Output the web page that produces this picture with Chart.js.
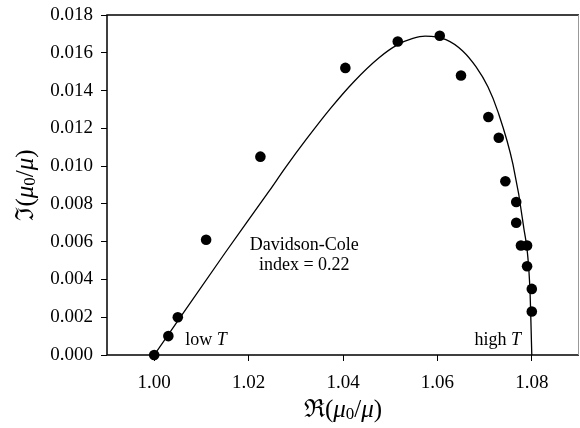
<!DOCTYPE html>
<html>
<head>
<meta charset="utf-8">
<script src="https://cdn.jsdelivr.net/npm/chart.js@4/dist/chart.umd.min.js"></script>
<style>
  html, body { margin: 0; padding: 0; background: #fff; }
  #wrap { width: 580px; height: 428px; }
</style>
</head>
<body>
<div id="wrap"><canvas id="c" width="580" height="428"></canvas></div>
<script>
var reMu = [1.000, 1.003, 1.005, 1.011, 1.0225, 1.0405, 1.0516, 1.0605, 1.065, 1.0708,
            1.073, 1.0744, 1.0767, 1.0767, 1.0777, 1.079, 1.079, 1.080, 1.080];
var imMu = [0.0000, 0.0010, 0.0020, 0.0061, 0.0105, 0.0152, 0.0166, 0.0169, 0.0148, 0.0126,
            0.0115, 0.0092, 0.0081, 0.0070, 0.0058, 0.0058, 0.0047, 0.0035, 0.0023];

// Davidson-Cole fit line
var fitRe = [1.0000, 1.0150, 1.0243, 1.0278, 1.0322, 1.0374, 1.0423, 1.0477, 1.0516, 1.0548,
             1.0574, 1.0618, 1.0653, 1.0682, 1.0707, 1.0728, 1.0760, 1.0782, 1.0796, 1.0800];
var fitIm = [0.0000, 0.0054, 0.00866, 0.00992, 0.01141, 0.01307, 0.01447, 0.01575, 0.01643, 0.01676,
             0.01688, 0.01670, 0.01611, 0.01525, 0.0142, 0.0129, 0.0101, 0.0069, 0.0035, 0.0000];

var xTicks = [1.00, 1.02, 1.04, 1.06, 1.08];
var yTicks = [0.000, 0.002, 0.004, 0.006, 0.008, 0.010, 0.012, 0.014, 0.016, 0.018];

var serif = "'Liberation Serif', 'DejaVu Serif', serif";

function pts(xs, ys) {
    return xs.map(function(x, i) { return { x: x, y: ys[i] }; });
}

// frame, notes and axis titles drawn on top
var extras = {
    id: 'extras',
    afterDatasetsDraw: function(chart) {
        var ctx = chart.ctx;
        var a = chart.chartArea;
        ctx.save();
        ctx.strokeStyle = '#000';
        ctx.lineWidth = 1.5;
        ctx.beginPath();
        ctx.moveTo(a.right, a.top);
        ctx.lineTo(a.left, a.top);
        ctx.lineTo(a.left, a.bottom);
        ctx.lineTo(a.right, a.bottom);
        ctx.stroke();
        ctx.strokeStyle = '#999';
        ctx.lineWidth = 1;
        ctx.beginPath();
        ctx.moveTo(a.right - 0.5, a.top);
        ctx.lineTo(a.right - 0.5, a.bottom);
        ctx.stroke();
        ctx.restore();
    },
    afterDraw: function(chart) {
        var ctx = chart.ctx;
        var a = chart.chartArea;
        var xs = chart.scales.x, ys = chart.scales.y;
        ctx.save();
        ctx.fillStyle = '#000';
        ctx.font = '18px ' + serif;
        ctx.textBaseline = 'middle';
        ctx.textAlign = 'center';
        ctx.fillText('Davidson-Cole', xs.getPixelForValue(1.0318), ys.getPixelForValue(0.0058));
        ctx.fillText('index = 0.22', xs.getPixelForValue(1.0318), ys.getPixelForValue(0.00475));

        // "low T" and "high T" with italic T
        function lowHigh(word, xv, align) {
            var y = ys.getPixelForValue(0.0008);
            ctx.font = '18px ' + serif;
            var w1 = ctx.measureText(word + ' ').width;
            ctx.font = 'italic 18px ' + serif;
            var w2 = ctx.measureText('T').width;
            var x0 = xs.getPixelForValue(xv);
            if (align === 'right') x0 -= (w1 + w2);
            ctx.textAlign = 'left';
            ctx.font = '18px ' + serif;
            ctx.fillText(word + ' ', x0, y);
            ctx.font = 'italic 18px ' + serif;
            ctx.fillText('T', x0 + w1, y);
        }
        lowHigh('low', 1.0066, 'left');
        lowHigh('high', 1.0777, 'right');

        // axis titles: R(mu0/mu) and I(mu0/mu)
        function muLabel(prefix, cx, cy, rot) {
            ctx.save();
            ctx.translate(cx, cy);
            ctx.rotate(rot);
            var parts = [
                { t: prefix + '(', f: '25px ' + serif, dy: 0 },
                { t: 'μ', f: 'italic 25px ' + serif, dy: 0 },
                { t: '0', f: '17px ' + serif, dy: 5 },
                { t: '/', f: '25px ' + serif, dy: 0 },
                { t: 'μ', f: 'italic 25px ' + serif, dy: 0 },
                { t: ')', f: '25px ' + serif, dy: 0 }
            ];
            var total = 0;
            parts.forEach(function(p) { ctx.font = p.f; p.w = ctx.measureText(p.t).width; total += p.w; });
            var x = -total / 2;
            ctx.textAlign = 'left';
            ctx.textBaseline = 'middle';
            parts.forEach(function(p) {
                ctx.font = p.f;
                ctx.fillText(p.t, x, p.dy);
                x += p.w;
            });
            ctx.restore();
        }
        muLabel('ℜ', xs.getPixelForValue(1.04), 410, 0);
        muLabel('ℑ', 26, (a.top + a.bottom) / 2, -Math.PI / 2);
        ctx.restore();
    }
};

new Chart(document.getElementById('c'), {
    type: 'scatter',
    data: {
        datasets: [{
            label: 'Davidson-Cole',
            data: pts(fitRe, fitIm),
            showLine: true,
            borderColor: '#000',
            borderWidth: 1.3,
            pointRadius: 0,
            cubicInterpolationMode: 'monotone',
            fill: false
        }, {
            label: 'data',
            data: pts(reMu, imMu),
            showLine: false,
            clip: false,
            backgroundColor: '#000',
            borderColor: '#000',
            pointRadius: 5.3,
            pointBorderWidth: 0
        }]
    },
    options: {
        responsive: false,
        animation: false,
        layout: { autoPadding: false, padding: { top: 15, right: 1, left: 0, bottom: 0 } },
        plugins: {
            legend: { display: false },
            tooltip: { enabled: false }
        },
        scales: {
            x: {
                type: 'linear',
                min: 0.99,
                max: 1.09,
                afterBuildTicks: function(s) { s.ticks = xTicks.map(function(v) { return { value: v }; }); },
                afterFit: function(s) { s.height = 73; },
                grid: { drawOnChartArea: false, tickLength: 6, tickColor: '#000', drawTicks: true },
                border: { display: false },
                ticks: {
                    color: '#000',
                    padding: 11,
                    maxRotation: 0,
                    font: { family: serif, size: 19 },
                    callback: function(v) { return v.toFixed(2); }
                }
            },
            y: {
                type: 'linear',
                min: 0,
                max: 0.018,
                afterBuildTicks: function(s) { s.ticks = yTicks.map(function(v) { return { value: v }; }); },
                afterFit: function(s) { s.width = 107; s.paddingTop = 0; },
                grid: { drawOnChartArea: false, tickLength: 6, tickColor: '#000' },
                border: { display: false },
                ticks: {
                    color: '#000',
                    padding: 8,
                    font: { family: serif, size: 19 },
                    callback: function(v) { return v.toFixed(3); }
                }
            }
        }
    },
    plugins: [extras]
});
</script>
</body>
</html>
